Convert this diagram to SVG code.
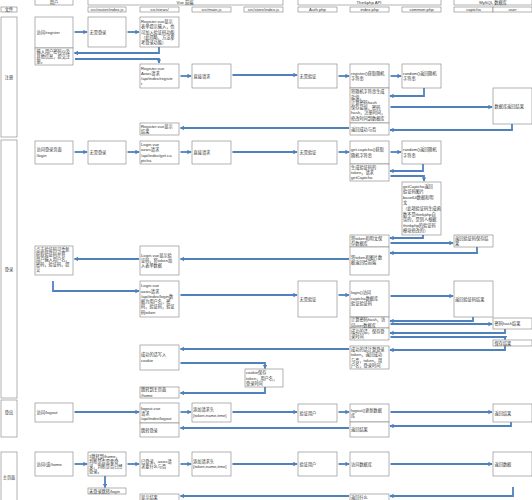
<svg xmlns="http://www.w3.org/2000/svg" width="532" height="500" viewBox="0 0 532 500">
<style>
.b{fill:#fff;stroke:#7f7f7f;stroke-width:0.6}
.t{font-family:"Liberation Sans","Noto Sans CJK SC",sans-serif;font-size:4.2px;fill:#333}
.c{text-anchor:middle}
.a{fill:none;stroke:#4f81bd;stroke-width:1.8;marker-end:url(#ah)}
</style>
<defs>
<marker id="ah" markerUnits="userSpaceOnUse" markerWidth="5" markerHeight="5" refX="3.6" refY="2.2" orient="auto">
<path d="M0,0 L4.2,2.2 L0,4.4 z" fill="#4f81bd"/>
</marker>
</defs>
<rect width="532" height="500" fill="#fff"/>

<g id="header">
<rect class="b" x="35" y="-1" width="38" height="6"/><text class="t c" x="54" y="4">用户</text>
<rect class="b" x="88" y="-1" width="195" height="6"/><text class="t c" x="185" y="4">Vue 前端</text>
<rect class="b" x="298" y="-1" width="143" height="6"/><text class="t c" x="369" y="4">Thinkphp API</text>
<rect class="b" x="454" y="-1" width="78" height="6"/><text class="t c" x="493" y="4">MySQL 数据库</text>
<rect class="b" x="1" y="7" width="16" height="5"/><text class="t c" x="9" y="11">文件</text>
<rect class="b" x="88" y="7" width="38" height="5"/><text class="t c" x="107" y="11">src/router/index.js</text>
<rect class="b" x="140" y="7" width="39" height="5"/><text class="t c" x="159.5" y="11">src/views/</text>
<rect class="b" x="192" y="7" width="39" height="5"/><text class="t c" x="211.5" y="11">src/main.js</text>
<rect class="b" x="244" y="7" width="39" height="5"/><text class="t c" x="263.5" y="11">src/store/index.js</text>
<rect class="b" x="298" y="7" width="39" height="5"/><text class="t c" x="317.5" y="11">Auth.php</text>
<rect class="b" x="350" y="7" width="39" height="5"/><text class="t c" x="369.5" y="11">index.php</text>
<rect class="b" x="402" y="7" width="39" height="5"/><text class="t c" x="421.5" y="11">common.php</text>
<rect class="b" x="454" y="7" width="39" height="5"/><text class="t c" x="473.5" y="11">captcha</text>
<rect class="b" x="493" y="7" width="39" height="5"/><text class="t c" x="512.5" y="11">user</text>
</g>

<g id="lanes">
<rect class="b" x="1" y="17" width="16" height="120"/><text class="t c" x="9" y="78.5">注册</text>
<rect class="b" x="1" y="140" width="16" height="258"/><text class="t c" x="9" y="270.5">登录</text>
<rect class="b" x="1" y="400" width="16" height="37"/><text class="t c" x="9" y="413.5">登出</text>
<rect class="b" x="1" y="452" width="16" height="50"/><text class="t c" x="9" y="478.5">主页面</text>
</g>

<g id="connectors">
<path class="a" d="M74.5,32 H87"/>
<path class="a" d="M127.5,32 H139"/>
<path class="a" d="M159,47 V53 H74.5"/>
<path class="a" d="M75,59 H159 V63"/>
<path class="a" d="M180.5,76 H191"/>
<path class="a" d="M232.5,75 H297"/>
<path class="a" d="M338.5,76 H349"/>
<path class="a" d="M390.5,76 H401"/>
<path class="a" d="M424,88 V96 H390"/>
<path class="a" d="M390.5,107 H492"/>
<path class="a" d="M512,124 V130 H390"/>
<path class="a" d="M349,128 H180.5"/>

<path class="a" d="M74.5,152 H87"/>
<path class="a" d="M127.5,152 H139"/>
<path class="a" d="M180.5,152 H191"/>
<path class="a" d="M232.5,152 H297"/>
<path class="a" d="M338.5,152 H349"/>
<path class="a" d="M390.5,152 H401"/>
<path class="a" d="M423,164 V171 H390"/>
<path class="a" d="M390.5,176 H424 V181"/>
<path class="a" d="M423,235 V238 H390"/>
<path class="a" d="M390.5,243 H453"/>
<path class="a" d="M477,247 V253 H390"/>
<path class="a" d="M349,259 H180.5"/>
<path class="a" d="M139,259 H74.5"/>
<path class="a" d="M53,281 V291 H139"/>
<path class="a" d="M180.5,295 H297"/>
<path class="a" d="M338.5,295 H349"/>
<path class="a" d="M390.5,296 H453"/>
<path class="a" d="M473,317 V321 H390"/>
<path class="a" d="M390.5,324 H492"/>
<path class="a" d="M505,329 V333 H390"/>
<path class="a" d="M390.5,337 H505 V339.5"/>
<path class="a" d="M505,346 V350 H390"/>
<path class="a" d="M349,349 H180.5"/>
<path class="a" d="M180.5,363 H265 V368.5"/>
<path class="a" d="M265,387 V393 H180.5"/>

<path class="a" d="M74.5,412 H139"/>
<path class="a" d="M180.5,412 H191"/>
<path class="a" d="M232.5,412 H297"/>
<path class="a" d="M338.5,412 H349"/>
<path class="a" d="M390.5,412 H492"/>
<path class="a" d="M511,422 V426 H390"/>
<path class="a" d="M349,428 H180.5"/>

<path class="a" d="M74.5,464 H87"/>
<path class="a" d="M105,476 V487.5"/>
<path class="a" d="M127.5,464 H139"/>
<path class="a" d="M180.5,464 H191"/>
<path class="a" d="M232.5,464 H297"/>
<path class="a" d="M338.5,464 H349"/>
<path class="a" d="M390.5,464 H492"/>
<path class="a" d="M513,487 V496 H390"/>
<path class="a" d="M349,496 H180.5"/>
</g>

<g id="n-visit-register"><rect class="b" x="35" y="17" width="38" height="31"/><text class="t" x="36.5" y="34">访问/register</text></g>
<g id="n-input-register"><rect class="b" x="35" y="48" width="38" height="17"/><text class="t"><tspan x="36.5" y="52.7">输入用户密码以及</tspan><tspan x="36.5" y="58">其他信息，提交注</tspan><tspan x="36.5" y="63.3">册。</tspan></text></g>
<g id="n-nologin-1"><rect class="b" x="88" y="17" width="38" height="30"/><text class="t" x="89.5" y="33.5">无需登录</text></g>
<g id="n-register-form"><rect class="b" x="140" y="17" width="39" height="30"/><text class="t"><tspan x="141" y="22.9">Register.vue显示</tspan><tspan x="141" y="28.2">表单提示输入，也</tspan><tspan x="141" y="33.5">可加入验证码功能</tspan><tspan x="141" y="38.8">（此简略，方法参</tspan><tspan x="141" y="44.1">考登录功能）</tspan></text></g>
<g id="n-register-axios"><rect class="b" x="140" y="64" width="39" height="24"/><text class="t"><tspan x="141" y="69.5">Register.vue</tspan><tspan x="141" y="74.8">Axios请求</tspan><tspan x="141" y="80.1">/api/index/registe</tspan><tspan x="141" y="85.4">r</tspan></text></g>
<g id="n-direct-1"><rect class="b" x="192" y="64" width="39" height="24"/><text class="t" x="193.5" y="77.5">直接请求</text></g>
<g id="n-noauth-1"><rect class="b" x="298" y="64" width="39" height="24"/><text class="t" x="299.5" y="77.5">无需验证</text></g>
<g id="n-register-fn"><rect class="b" x="350" y="64" width="39" height="24"/><text class="t"><tspan x="351" y="74.8">register()获取随机</tspan><tspan x="351" y="80.1">字符串</tspan></text></g>
<g id="n-random-1"><rect class="b" x="402" y="64" width="39" height="24"/><text class="t"><tspan x="403" y="74.8">random()返回随机</tspan><tspan x="403" y="80.1">字符串</tspan></text></g>
<g id="n-salt"><rect class="b" x="350" y="88" width="39" height="35"/><text class="t"><tspan x="351" y="93.2">将随机字符串生成</tspan><tspan x="351" y="98.5">盐值，</tspan><tspan x="351" y="103.8">计算密码hash</tspan><tspan x="351" y="109.1">保存盐值，密码</tspan><tspan x="351" y="114.4">hash，注册时间，</tspan><tspan x="351" y="119.7">修改时间到数据库</tspan></text></g>
<g id="n-db-result"><rect class="b" x="493" y="88" width="39" height="36"/><text class="t" x="494.5" y="107.5">数据库返回结果</text></g>
<g id="n-return-ok"><rect class="b" x="350" y="123" width="39" height="12"/><text class="t" x="351" y="130.5">返回成功与否</text></g>
<g id="n-register-result"><rect class="b" x="140" y="123" width="39" height="12"/><text class="t"><tspan x="141" y="127.8">Register.vue显示</tspan><tspan x="141" y="133.1">结果</tspan></text></g>

<g id="n-visit-login"><rect class="b" x="35" y="141" width="38" height="23"/><text class="t"><tspan x="36.5" y="151.3">访问登录页面</tspan><tspan x="36.5" y="156.6">/login</tspan></text></g>
<g id="n-nologin-2"><rect class="b" x="88" y="141" width="38" height="23"/><text class="t" x="89.5" y="154">无需登录</text></g>
<g id="n-login-captcha"><rect class="b" x="140" y="141" width="39" height="23"/><text class="t"><tspan x="141" y="146">Login.vue</tspan><tspan x="141" y="151.3">axios请求</tspan><tspan x="141" y="156.6">/api/index/get.ca</tspan><tspan x="141" y="161.9">ptcha</tspan></text></g>
<g id="n-direct-2"><rect class="b" x="192" y="141" width="39" height="23"/><text class="t" x="193.5" y="154">直接请求</text></g>
<g id="n-noauth-2"><rect class="b" x="298" y="141" width="39" height="23"/><text class="t" x="299.5" y="154">无需验证</text></g>
<g id="n-getcaptcha-fn"><rect class="b" x="350" y="141" width="39" height="23"/><text class="t"><tspan x="351" y="151.3">get.captcha()获取</tspan><tspan x="351" y="156.6">随机字符串</tspan></text></g>
<g id="n-random-2"><rect class="b" x="402" y="141" width="39" height="23"/><text class="t"><tspan x="403" y="151.3">random()返回随机</tspan><tspan x="403" y="156.6">字符串</tspan></text></g>
<g id="n-gen-token"><rect class="b" x="350" y="164" width="39" height="17"/><text class="t"><tspan x="351" y="168.7">生成验证码的</tspan><tspan x="351" y="174">token，请求</tspan><tspan x="351" y="179.3">getCaptcha</tspan></text></g>
<g id="n-getcaptcha"><rect class="b" x="402" y="182" width="39" height="53"/><text class="t"><tspan x="403" y="187.6">getCaptcha返回</tspan><tspan x="403" y="193.2">验证码图片</tspan><tspan x="403" y="198.8">base64数据和明</tspan><tspan x="403" y="204.4">文</tspan><tspan x="403" y="210">（此项验证码生成函</tspan><tspan x="403" y="215.6">数不是thinkphp自</tspan><tspan x="403" y="221.2">带的，是别人根据</tspan><tspan x="403" y="226.8">thinkphp的验证码</tspan><tspan x="403" y="232.4">模块修改的）</tspan></text></g>
<g id="n-save-token"><rect class="b" x="350" y="235" width="39" height="12"/><text class="t"><tspan x="351" y="239.8">将token和明文保</tspan><tspan x="351" y="245.1">存数据库</tspan></text></g>
<g id="n-captcha-save"><rect class="b" x="454" y="235" width="39" height="12"/><text class="t"><tspan x="455" y="239.8">返回验证码保存结</tspan><tspan x="455" y="245.1">果</tspan></text></g>
<g id="n-return-img"><rect class="b" x="350" y="247" width="39" height="28"/><text class="t"><tspan x="351" y="258.5">将token和图片数</tspan><tspan x="351" y="263.8">据返回给前端</tspan></text></g>
<g id="n-login-show"><rect class="b" x="140" y="246" width="39" height="29"/><text class="t"><tspan x="141" y="256.7">Login.vue显示验</tspan><tspan x="141" y="262">证码，将token加</tspan><tspan x="141" y="267.3">入表单数据</tspan></text></g>
<g id="n-user-input"><rect class="b" x="35" y="246" width="38" height="29"/><text class="t"><tspan x="36" y="250.5">点击验证码可重新</tspan><tspan x="36" y="255.7">获取验证码并将</tspan><tspan x="36" y="260.9">用户输入用户名，</tspan><tspan x="36" y="266.1">密码，验证码，提</tspan><tspan x="36" y="271.3">交</tspan></text></g>
<g id="n-login-axios"><rect class="b" x="140" y="281" width="39" height="36"/><text class="t"><tspan x="141" y="287.2">Login.vue</tspan><tspan x="141" y="292.5">axios请求</tspan><tspan x="141" y="297.8">/api/index/login数</tspan><tspan x="141" y="303.1">据为用户名，密</tspan><tspan x="141" y="308.4">码，验证码，验证</tspan><tspan x="141" y="313.7">码token</tspan></text></g>
<g id="n-noauth-3"><rect class="b" x="298" y="281" width="39" height="36"/><text class="t" x="299.5" y="300.5">无需验证</text></g>
<g id="n-login-fn"><rect class="b" x="350" y="281" width="39" height="36"/><text class="t"><tspan x="351" y="294.2">login()访问</tspan><tspan x="351" y="299.5">captcha数据库</tspan><tspan x="351" y="304.8">验证验证码</tspan></text></g>
<g id="n-captcha-result"><rect class="b" x="454" y="281" width="39" height="36"/><text class="t" x="455" y="300.5">返回验证码结果</text></g>
<g id="n-calc-hash"><rect class="b" x="350" y="317" width="39" height="11"/><text class="t"><tspan x="351" y="321.3">计算密码hash，访</tspan><tspan x="351" y="326.6">问user数据库</tspan></text></g>
<g id="n-hash-result"><rect class="b" x="493" y="318" width="39" height="11"/><text class="t" x="494.5" y="325">密码hash结果</text></g>
<g id="n-save-time"><rect class="b" x="350" y="328" width="39" height="12"/><text class="t"><tspan x="351" y="332.8">成功的话，保存登</tspan><tspan x="351" y="338.1">录时间</tspan></text></g>
<g id="n-save-result"><rect class="b" x="493" y="340" width="39" height="6"/><text class="t" x="494.5" y="344.6">保存结果</text></g>
<g id="n-login-token"><rect class="b" x="350" y="346" width="39" height="23"/><text class="t"><tspan x="351" y="351">成功的话计算登录</tspan><tspan x="351" y="356.3">token，返回成功</tspan><tspan x="351" y="361.6">与否，token，用</tspan><tspan x="351" y="366.9">户名，登录时间</tspan></text></g>
<g id="n-write-cookie"><rect class="b" x="140" y="345" width="39" height="25"/><text class="t"><tspan x="141" y="356.3">成功的话写入</tspan><tspan x="141" y="361.6">cookie</tspan></text></g>
<g id="n-cookie-store"><rect class="b" x="245" y="369" width="38" height="18"/><text class="t"><tspan x="246" y="374.2">cookie保存</tspan><tspan x="246" y="379.5">token，用户名，</tspan><tspan x="246" y="384.8">登录时间</tspan></text></g>
<g id="n-goto-home"><rect class="b" x="140" y="387" width="39" height="11"/><text class="t"><tspan x="141" y="391.3">跳转到主页面</tspan><tspan x="141" y="396.6">/home</tspan></text></g>

<g id="n-visit-logout"><rect class="b" x="35" y="403" width="38" height="19"/><text class="t" x="36.5" y="414">访问/logout</text></g>
<g id="n-logout-vue"><rect class="b" x="140" y="403" width="39" height="20"/><text class="t"><tspan x="141" y="409.5">logout.vue</tspan><tspan x="141" y="414.8">请求</tspan><tspan x="141" y="420.1">/api/index/logout</tspan></text></g>
<g id="n-goto-login"><rect class="b" x="140" y="423" width="39" height="14"/><text class="t" x="141" y="431.5">跳转登录</text></g>
<g id="n-header-1"><rect class="b" x="192" y="403" width="39" height="19"/><text class="t"><tspan x="193" y="411.3">添加请求头</tspan><tspan x="193" y="416.6">{token,name,time}</tspan></text></g>
<g id="n-verify-1"><rect class="b" x="298" y="404" width="39" height="18"/><text class="t" x="299.5" y="414.5">验证用户</text></g>
<g id="n-logout-fn"><rect class="b" x="350" y="404" width="39" height="18"/><text class="t"><tspan x="351" y="411.8">logout()更新数据</tspan><tspan x="351" y="417.1">库</tspan></text></g>
<g id="n-result-db"><rect class="b" x="493" y="404" width="39" height="18"/><text class="t" x="494.5" y="414.5">返回结果</text></g>
<g id="n-result-api"><rect class="b" x="350" y="422" width="39" height="15"/><text class="t" x="351" y="431">返回结果</text></g>

<g id="n-visit-home"><rect class="b" x="35" y="452" width="38" height="24"/><text class="t" x="36.5" y="465.5">访问/或/home</text></g>
<g id="n-router-check"><rect class="b" x="88" y="452" width="38" height="24"/><text class="t"><tspan x="89" y="457.5">1跳转到/home，</tspan><tspan x="89" y="462.8">判断是否需要登</tspan><tspan x="89" y="468.1">录，判断是否已经</tspan><tspan x="89" y="473.4">登录。</tspan></text></g>
<g id="n-to-login"><rect class="b" x="88" y="488" width="38" height="6"/><text class="t" x="89" y="492.6">未登录跳转/login</text></g>
<g id="n-logged-axios"><rect class="b" x="140" y="452" width="39" height="24"/><text class="t"><tspan x="141" y="462.8">已登录，axios请</tspan><tspan x="141" y="468.1">求要什么与否</tspan></text></g>
<g id="n-header-2"><rect class="b" x="192" y="452" width="39" height="24"/><text class="t"><tspan x="193" y="462.8">添加请求头</tspan><tspan x="193" y="468.1">{token,name,time}</tspan></text></g>
<g id="n-verify-2"><rect class="b" x="298" y="452" width="39" height="24"/><text class="t" x="299.5" y="465.5">验证用户</text></g>
<g id="n-access-db"><rect class="b" x="350" y="452" width="39" height="24"/><text class="t" x="351" y="465.5">访问数据库</text></g>
<g id="n-return-data"><rect class="b" x="493" y="452" width="39" height="24"/><text class="t" x="494.5" y="465.5">返回数据</text></g>
<g id="n-return-what"><rect class="b" x="350" y="494" width="39" height="8"/><text class="t" x="351" y="498.6">返回什么</text></g>
<g id="n-show-result"><rect class="b" x="140" y="494" width="39" height="8"/><text class="t" x="141" y="498.6">显示结果</text></g>
</svg>
